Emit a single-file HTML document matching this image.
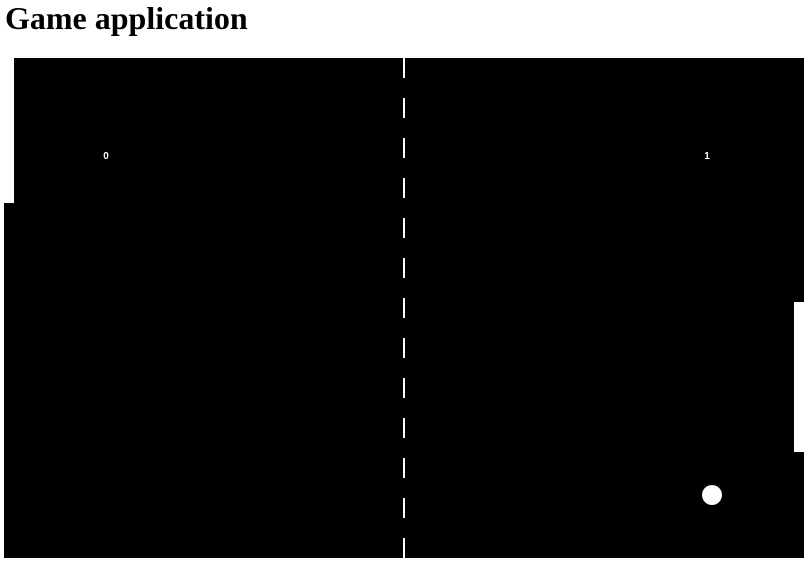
<!DOCTYPE html>
<html><head><meta charset="utf-8"><style>
html,body{margin:0;padding:0;background:#fff;width:810px;height:564px;overflow:hidden;position:relative}
.t{position:absolute;left:5px;top:2px;font:bold 32px/32px "Liberation Serif",serif;color:#000;white-space:nowrap}
.f{position:absolute;left:4px;top:58px;width:800px;height:500px;background:#000}
.w{position:absolute;background:#fff}
.s{position:absolute;color:#fff;font:bold 10px/10px "Liberation Sans",sans-serif;width:20px;text-align:center}
</style></head><body>
<div class="t">Game application</div>
<div class="f"></div>
<div class="w" style="left:4px;top:58px;width:10px;height:145px"></div>
<div class="w" style="left:794px;top:302px;width:10px;height:150px"></div>
<div style="position:absolute;left:403px;top:58px;width:2px;height:500px;background:repeating-linear-gradient(to bottom,#fff 0 20px,transparent 20px 40px)"></div>
<div class="s" style="left:96px;top:152px">0</div>
<div class="s" style="left:697px;top:152px">1</div>
<div class="w" style="left:702px;top:485px;width:20px;height:20px;border-radius:50%"></div>
</body></html>
